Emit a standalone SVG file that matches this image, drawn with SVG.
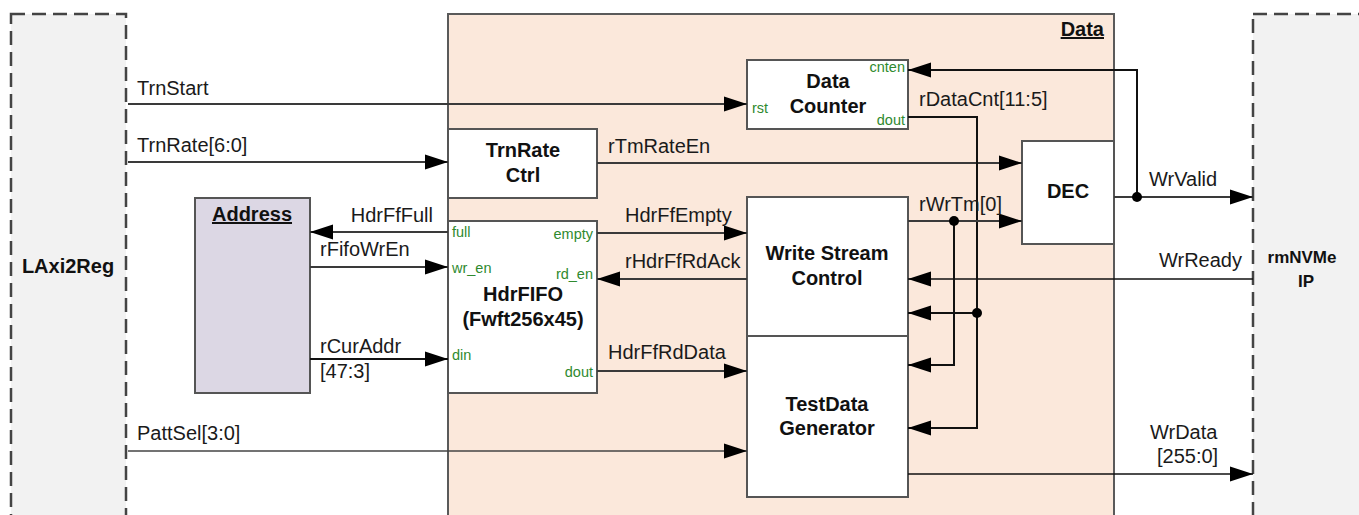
<svg xmlns="http://www.w3.org/2000/svg" width="1359" height="515" viewBox="0 0 1359 515">
<defs>
<marker id="ah" markerUnits="userSpaceOnUse" markerWidth="24" markerHeight="16" refX="23" refY="8" orient="auto">
<path d="M0,0.5 L23,8 L0,15.5 z" fill="#000"/>
</marker>
<style>
.lbl{font-family:"Liberation Sans",Arial,sans-serif;font-size:20px;fill:#1a1a1a}
.blk{font-family:"Liberation Sans",Arial,sans-serif;font-size:20px;font-weight:bold;fill:#111;text-anchor:middle}
.port{font-family:"Liberation Sans",Arial,sans-serif;font-size:14.5px;fill:#2f8a2f}
.end{text-anchor:end}
.box{fill:#fff;stroke:#555;stroke-width:2}
.ext{fill:#f2f2f2;stroke:#444;stroke-width:2.5;stroke-dasharray:14 7}
.w{fill:none;stroke:#3a3a3a;stroke-width:2}
.t{fill:none;stroke:#111;stroke-width:1.5}
.dot{fill:#000}
</style>
</defs>
<rect width="1359" height="515" fill="#fff"/>

<g id="laxi2reg">
<rect class="ext" x="11" y="14" width="115" height="520"/>
<text class="blk" x="68" y="273">LAxi2Reg</text>
</g>

<g id="rmnvme">
<rect class="ext" x="1253" y="14" width="130" height="520"/>
<text class="blk" x="1302" y="263" style="font-size:17px">rmNVMe</text>
<text class="blk" x="1306" y="287" style="font-size:17px">IP</text>
</g>

<g id="data">
<rect x="448" y="14" width="666" height="520" fill="#fbe8db" stroke="#5a5a5a" stroke-width="2"/>
<text class="blk end" x="1104" y="36" text-decoration="underline">Data</text>
</g>

<g id="address">
<rect x="195" y="198" width="115" height="195" fill="#dcd7e4" stroke="#555" stroke-width="2"/>
<text class="blk" x="252" y="221" text-decoration="underline">Address</text>
</g>

<g id="datacounter">
<rect class="box" x="747" y="60" width="161" height="69"/>
<text class="blk" x="828" y="88">Data</text>
<text class="blk" x="828" y="113">Counter</text>
<text class="port end" x="905" y="72">cnten</text>
<text class="port" x="752" y="113">rst</text>
<text class="port end" x="905" y="125">dout</text>
</g>

<g id="trnratectrl">
<rect class="box" x="448" y="129" width="149" height="69"/>
<text class="blk" x="523" y="157">TrnRate</text>
<text class="blk" x="523" y="182">Ctrl</text>
</g>

<g id="hdrfifo">
<rect class="box" x="448" y="221" width="149" height="172"/>
<text class="blk" x="523" y="301">HdrFIFO</text>
<text class="blk" x="523" y="326">(Fwft256x45)</text>
<text class="port" x="452" y="237">full</text>
<text class="port end" x="593" y="239">empty</text>
<text class="port" x="452" y="273">wr_en</text>
<text class="port end" x="593" y="279">rd_en</text>
<text class="port" x="452" y="360">din</text>
<text class="port end" x="593" y="377">dout</text>
</g>

<g id="writestreamcontrol">
<rect class="box" x="747" y="197" width="161" height="139"/>
<text class="blk" x="827" y="260">Write Stream</text>
<text class="blk" x="827" y="285">Control</text>
</g>

<g id="testdatagenerator">
<rect class="box" x="747" y="336" width="161" height="161"/>
<text class="blk" x="827" y="411">TestData</text>
<text class="blk" x="827" y="435">Generator</text>
</g>

<g id="dec">
<rect class="box" x="1022" y="141" width="92" height="103"/>
<text class="blk" x="1068" y="198">DEC</text>
</g>

<g id="connectors">
<path class="w" d="M128,104 H747" marker-end="url(#ah)"/>
<path class="w" d="M128,162 H448" marker-end="url(#ah)"/>
<path class="w" d="M448,232 H310" marker-end="url(#ah)"/>
<path class="w" d="M310,267 H448" marker-end="url(#ah)"/>
<path class="w" d="M310,359 H448" stroke-width="2.5" style="stroke:#111" marker-end="url(#ah)"/>
<path class="t" d="M128,451 H747" style="stroke:#444" marker-end="url(#ah)"/>
<path class="w" d="M597,163 H1022" marker-end="url(#ah)"/>
<path class="w" d="M597,233 H747" marker-end="url(#ah)"/>
<path class="w" d="M747,279 H597" marker-end="url(#ah)"/>
<path class="w" d="M597,371 H747" marker-end="url(#ah)"/>
<path class="w" d="M1137,197 V70 H908" style="stroke:#111" marker-end="url(#ah)"/>
<path class="w" d="M1114,197 H1253" marker-end="url(#ah)"/>
<path class="w" d="M908,117 H977 V428 H908" style="stroke:#111" marker-end="url(#ah)"/>
<path class="w" d="M977,313 H908" style="stroke:#111" marker-end="url(#ah)"/>
<path class="w" d="M908,221 H1022" marker-end="url(#ah)"/>
<path class="w" d="M954,221 V365 H908" style="stroke:#111" marker-end="url(#ah)"/>
<path class="t" d="M1253,279 H908" marker-end="url(#ah)"/>
<path class="t" d="M908,474 H1253" marker-end="url(#ah)"/>
<circle class="dot" cx="1137" cy="197" r="5"/>
<circle class="dot" cx="977" cy="313" r="5"/>
<circle class="dot" cx="954" cy="221" r="5"/>
<text class="lbl" x="137" y="95">TrnStart</text>
<text class="lbl" x="137" y="152">TrnRate[6:0]</text>
<text class="lbl" x="137" y="440">PattSel[3:0]</text>
<text class="lbl end" x="433" y="222">HdrFfFull</text>
<text class="lbl" x="320" y="256">rFifoWrEn</text>
<text class="lbl" x="320" y="353">rCurAddr</text>
<text class="lbl" x="320" y="378">[47:3]</text>
<text class="lbl" x="608" y="153">rTmRateEn</text>
<text class="lbl" x="625" y="222">HdrFfEmpty</text>
<text class="lbl" x="625" y="268">rHdrFfRdAck</text>
<text class="lbl" x="608" y="359">HdrFfRdData</text>
<text class="lbl" x="919" y="106">rDataCnt[11:5]</text>
<text class="lbl" x="919" y="211">rWrTm[0]</text>
<text class="lbl" x="1149" y="186">WrValid</text>
<text class="lbl end" x="1242" y="267">WrReady</text>
<text class="lbl" x="1150" y="439">WrData</text>
<text class="lbl" x="1157" y="463">[255:0]</text>
</g>
</svg>
